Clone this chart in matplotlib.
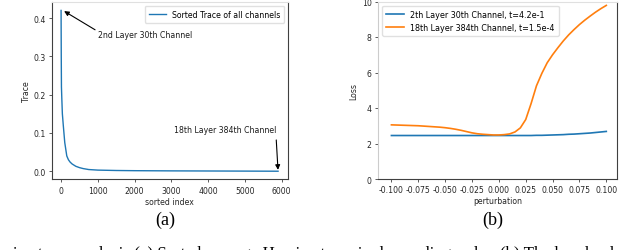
import matplotlib
matplotlib.use("Agg")
import matplotlib.pyplot as plt

# ---- data (a) ----
sorted_index = [0, 5, 10, 20, 35, 60, 100, 155, 200, 245, 300, 400, 500, 600, 750,
                1000, 1500, 2000, 3000, 4000, 5000, 5900]
trace_vals = [0.42, 0.30, 0.22, 0.19, 0.15, 0.12, 0.075, 0.04, 0.030, 0.024, 0.019,
              0.013, 0.0095, 0.007, 0.0045, 0.0030, 0.0020, 0.0015, 0.0010, 0.0007,
              0.0004, 0.0001]

# ---- data (b) ----
perturbation = [-0.100, -0.095, -0.090, -0.085, -0.080, -0.075, -0.070, -0.065, -0.060,
                -0.055, -0.050, -0.045, -0.040, -0.035, -0.030, -0.025, -0.020, -0.015,
                -0.010, -0.005, 0.000, 0.005, 0.010, 0.015, 0.020, 0.025, 0.030, 0.035,
                0.040, 0.045, 0.050, 0.055, 0.060, 0.065, 0.070, 0.075, 0.080, 0.085,
                0.090, 0.095, 0.100]
loss_layer2 = [2.45, 2.45, 2.45, 2.45, 2.45, 2.45, 2.45, 2.45, 2.45, 2.45, 2.45, 2.45,
               2.45, 2.45, 2.45, 2.45, 2.45, 2.45, 2.45, 2.45, 2.45, 2.45, 2.45, 2.45,
               2.45, 2.45, 2.45, 2.46, 2.46, 2.47, 2.48, 2.49, 2.50, 2.52, 2.53, 2.55,
               2.57, 2.59, 2.62, 2.65, 2.68]
loss_layer18 = [3.05, 3.04, 3.03, 3.02, 3.01, 3.00, 2.98, 2.96, 2.94, 2.92, 2.89, 2.85,
                2.80, 2.74, 2.67, 2.60, 2.55, 2.52, 2.50, 2.48, 2.48, 2.50, 2.54, 2.65,
                2.88, 3.35, 4.25, 5.25, 5.95, 6.55, 7.00, 7.40, 7.78, 8.12, 8.42, 8.70,
                8.95, 9.18, 9.40, 9.60, 9.78]

legend_a = "Sorted Trace of all channels"
legend_b = ["2th Layer 30th Channel, t=4.2e-1", "18th Layer 384th Channel, t=1.5e-4"]
annot_top = "2nd Layer 30th Channel"
annot_bottom = "18th Layer 384th Channel"
caption = "Hessian trace analysis (a) Sorted average Hessian trace in descending order; (b) The loss landscape"

W, H = 640, 251
fig = plt.figure(figsize=(W / 100, H / 100), dpi=100)

FS = 5.6

def px_axes(l, t, r, b):
    return fig.add_axes([l / W, 1 - b / H, (r - l) / W, (b - t) / H])

def style(ax, fs):
    for s in ["left", "bottom", "right"]:
        ax.spines[s].set_color("0.25")
        ax.spines[s].set_linewidth(0.8)
    ax.spines["top"].set_color("0.88")
    ax.spines["top"].set_linewidth(0.8)
    ax.tick_params(labelsize=fs, length=2.5, width=0.6, pad=2, colors="0.25", labelcolor="0.15")

# (a)
ax1 = px_axes(51.7, 3, 288, 180.3)
ax1.plot(sorted_index, trace_vals, color="#1f77b4", lw=1.0, label=legend_a)
ax1.set_xlim(-255, 6170)
ax1.set_ylim(-0.021, 0.442)
ax1.set_xticks([0, 1000, 2000, 3000, 4000, 5000, 6000])
ax1.set_yticks([0.0, 0.1, 0.2, 0.3, 0.4])
style(ax1, FS)
ax1.set_xlabel("sorted index", fontsize=FS, labelpad=1.5, color="0.15")
ax1.set_ylabel("Trace", fontsize=FS, labelpad=1.5, color="0.15")
ax1.legend(loc="upper right", fontsize=FS, frameon=True, borderpad=0.5,
           handlelength=2.2, edgecolor="0.85")
ax1.annotate(annot_top, xy=(sorted_index[0] + 50, trace_vals[0]), xytext=(1000, 0.358),
             fontsize=FS, ha="left", va="center", color="0.1",
             arrowprops=dict(arrowstyle="-|>", color="black", lw=0.8,
                             mutation_scale=7, relpos=(0.0, 0.8), shrinkA=0, shrinkB=1))
ax1.annotate(annot_bottom, xy=(sorted_index[-1], trace_vals[-1]), xytext=(5842, 0.108),
             fontsize=FS, ha="right", va="center", color="0.1",
             arrowprops=dict(arrowstyle="-|>", color="black", lw=0.8,
                             mutation_scale=7, relpos=(1.0, 0.0), shrinkA=2, shrinkB=1))

# (b)
ax2 = px_axes(378, 2.5, 616.5, 180)
ax2.plot(perturbation, loss_layer2, color="#1f77b4", lw=1.2, label=legend_b[0])
ax2.plot(perturbation, loss_layer18, color="#ff7f0e", lw=1.2, label=legend_b[1])
ax2.set_xlim(-0.1125, 0.1095)
ax2.set_ylim(0, 10)
ax2.set_xticks([-0.100, -0.075, -0.050, -0.025, 0.000, 0.025, 0.050, 0.075, 0.100])
ax2.set_xticklabels(["-0.100", "-0.075", "-0.050", "-0.025", "0.000", "0.025", "0.050", "0.075", "0.100"])
ax2.set_yticks([0, 2, 4, 6, 8, 10])
style(ax2, FS)
ax2.spines["left"].set_color("0.8")
ax2.set_xlabel("perturbation", fontsize=FS, labelpad=1.5, color="0.15")
ax2.set_ylabel("Loss", fontsize=FS, labelpad=2.5, color="0.15")
ax2.legend(loc="upper left", fontsize=FS + 0.2, frameon=True, borderpad=0.5,
           handlelength=2.2, edgecolor="0.85")

# sub captions
serif = ["Liberation Serif", "DejaVu Serif"]
fig.text(165 / W, 1 - 220 / H, "(a)", fontsize=13, family=serif, ha="center", va="center")
fig.text(493 / W, 1 - 220 / H, "(b)", fontsize=13, family=serif, ha="center", va="center")

# caption (cut at the bottom and the sides, as in the reference)
cap_fs = 12.2
fig.canvas.draw()
r = fig.canvas.get_renderer()
tmp = fig.text(0, 0, "He", fontsize=cap_fs, family=serif)
he_w = tmp.get_window_extent(renderer=r).width
tmp.remove()
fig.text(-he_w / W, 1 - 258 / H, caption, fontsize=cap_fs, family=serif,
         ha="left", va="baseline")

fig.savefig("out.png", dpi=100)
